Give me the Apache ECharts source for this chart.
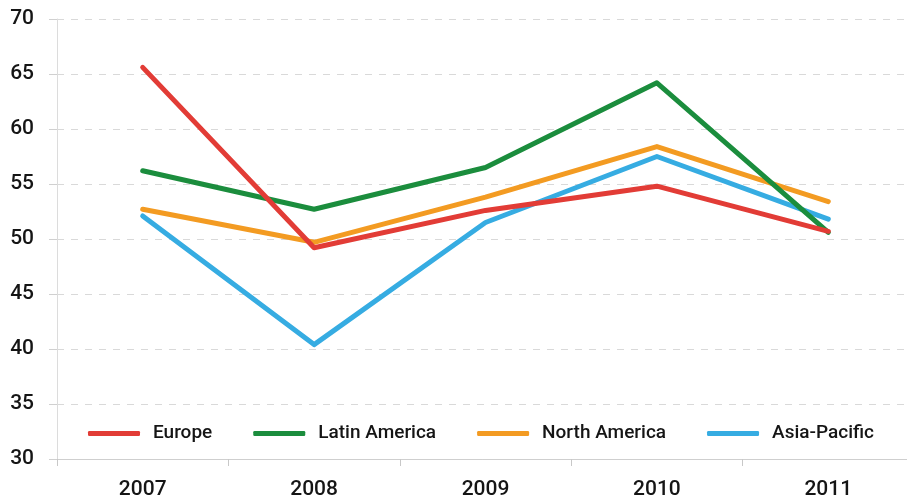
<!DOCTYPE html>
<html lang="en">
<head>
  <meta charset="UTF-8">
  <title>Regions 2007-2011</title>
  <script src="https://cdn.jsdelivr.net/npm/echarts@6/dist/echarts.min.js"></script>
  <style>
    html, body { margin: 0; padding: 0; background: #fff; }
    #chart { width: 907px; height: 495px; }
  </style>
</head>
<body>
  <div id="chart"></div>
  <script>
    var years = ['2007', '2008', '2009', '2010', '2011']
    var europe = [65.6, 49.2, 52.6, 54.8, 50.7]
    var latinAmerica = [56.2, 52.7, 56.5, 64.2, 50.6]
    var northAmerica = [52.7, 49.7, 53.8, 58.4, 53.4]
    var asiaPacific = [52.1, 40.4, 51.5, 57.5, 51.8]
    var legendOrder = ['Europe', 'Latin America', 'North America', 'Asia-Pacific']

    var font = 'Roboto, "Liberation Sans", Arial, sans-serif'

    function line (name, data, color) {
      return {
        name: name,
        type: 'line',
        data: data,
        symbol: 'none',
        color: color,
        lineStyle: { width: 5, color: color, cap: 'round', join: 'round' }
      }
    }

    var chart = echarts.init(document.getElementById('chart'))
    chart.setOption({
      animation: false,
      // the last category band runs a little past the right edge in the original,
      // so don't let the grid get squeezed back inside the canvas
      grid: { left: 57, top: 19, width: 857, bottom: 36, outerBoundsMode: 'none', containLabel: false },
      legend: {
        data: legendOrder,
        left: 83,
        top: 419,
        icon: 'roundRect',
        itemWidth: 52,
        itemHeight: 5,
        itemGap: 41,
        textStyle: { fontFamily: font, fontSize: 19, fontWeight: 500, color: '#151515', padding: [0, 0, 0, 8] }
      },
      xAxis: {
        type: 'category',
        data: years,
        boundaryGap: true,
        axisLine: { lineStyle: { color: '#cfcfcf', width: 1 } },
        axisTick: { show: true, interval: 0, length: 7, lineStyle: { color: '#c8c8c8' } },
        axisLabel: { fontFamily: font, fontSize: 21, fontWeight: 500, color: '#151515', margin: 20 }
      },
      yAxis: {
        type: 'value',
        min: 30,
        max: 70,
        interval: 5,
        axisLine: { show: true, lineStyle: { color: '#dcdcdc', width: 1 } },
        axisTick: { show: true, length: 8, lineStyle: { color: '#d0d0d0' } },
        axisLabel: { fontFamily: font, fontSize: 21, fontWeight: 500, color: '#151515', margin: 23, padding: [9, 0, 0, 0] },
        splitLine: { show: true, lineStyle: { color: '#d9d9d9', type: [7, 7], width: 1 } }
      },
      series: [
        line('Asia-Pacific', asiaPacific, '#36ace2'),
        line('North America', northAmerica, '#f39b22'),
        line('Latin America', latinAmerica, '#1b8d3d'),
        line('Europe', europe, '#e23c36')
      ]
    })
  </script>
</body>
</html>
